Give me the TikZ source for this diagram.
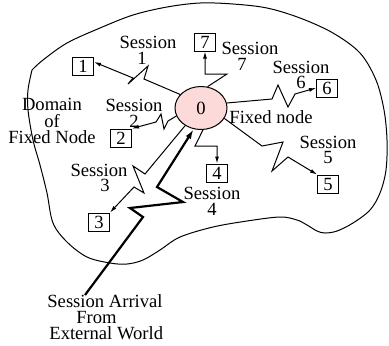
\documentclass[tikz,border=0pt]{standalone}
\usepackage{fontspec}
\setmainfont{Liberation Serif}
\usetikzlibrary{shapes.geometric,arrows.meta}
\definecolor{nodepink}{RGB}{252,218,218}
\begin{document}
\begin{tikzpicture}[x=0.5pt,y=-0.5pt,
  every node/.style={font=\fontsize{9.3}{7.9}\selectfont, inner sep=0pt},
  lbl/.style={align=center},
  box/.style={draw, line width=0.5pt, minimum width=10.5pt, minimum height=9pt},
  link/.style={line width=0.5pt, -{Latex[length=3.5pt,width=2pt]}},
  arrival/.style={line width=1.1pt, -{Latex[length=5pt,width=3pt]}},
  blobline/.style={line width=0.5pt}]
\useasboundingbox (0,0) rectangle (389,345);

% boundary of the fixed node's domain
\draw[blobline] plot[smooth, tension=0.55] coordinates {
  (32,70) (43,60) (67,43) (100,28) (133,15) (167,7) (200,3) (233,4)
  (267,8) (300,18) (333,33) (360,53) (376,80) (384,110) (387,140)
  (386,170) (380,193) (370,210) (353,223) (337,231) (325,233) (317,231)
  (307,225) (297,220) (280,217) (247,221) (213,227) (180,237) (160,250)
  (143,260) (127,264) (110,263) (87,257) (67,242) (53,223) (47,193)
  (40,165) (33,140) (28,110) (28,90) (32,70)};

% fixed node
\node[ellipse, draw, line width=0.5pt, fill=nodepink,
      minimum width=26pt, minimum height=21.5pt] (n0) at (201,108) {0};
\node (fixed) at (271,117) {Fixed node};

% destination nodes
\node[box] (b1) at (83,66) {1};
\node[box] (b7) at (205,42) {7};
\node[box] (b6) at (327,88) {6};
\node[box] (b2) at (121,138) {2};
\node[box] (b4) at (217,173) {4};
\node[box] (b5) at (328,184) {5};
\node[box] (b3) at (99,222) {3};

% session labels
\node[lbl] (s1) at (148,50) {Session\\1\hspace*{6pt}};
\node[lbl] (s7) at (250,56) {Session\\7\hspace*{8pt}};
\node[lbl] (s6) at (301,75) {Session\\6};
\node[lbl] (s2) at (134,113) {Session\\2};
\node[lbl] (s3) at (99,178) {Session\\\hspace*{6pt}3};
\node[lbl] (s4) at (212,201) {Session\\4};
\node[lbl] (s5) at (328,150) {Session\\5};
\node[lbl, font=\fontsize{9.3}{8.2}\selectfont] (dom) at (52,121) {Domain\\of\\Fixed Node};
\node[align=left, anchor=west, font=\fontsize{9.3}{8}\selectfont] (arr) at (47,317)
  {Session Arrival\\\hspace*{14.5pt}From\\\hspace*{1pt}External World};

% sessions leaving the fixed node
\draw[link] (n0.147) -- (144,79) -- (148,66) -- (128,84) -- (133,78) -- (b1.20);
\draw[link] (n0.198) -- (168,121) -- (164,129) -- (161,114) -- (156,122) -- (b2.north east);
\draw[link] (n0.73) -- (227,74) -- (205,74) -- (b7.south);
\draw[link] (n0.11) -- (272,99) -- (278,85) -- (288,107) -- (295,94) -- (b6.west);
\draw[link] (n0.-24) -- (262,146) -- (283,142) -- (272,171) -- (288,157) -- (b5.north west);
\draw[link] (n0.-85) -- (195,146) -- (217,146) -- (b4.north);
\draw[link] (n0.228) -- (145,174) -- (133,166) -- (144,193) -- (134,187) -- (b3.north east);

% arrival from the external world
\coordinate (src) at (85,295);
\draw[arrival] (src) -- (143,217) -- (130,208) -- (183,202) -- (157,187) -- (n0.251);
\end{tikzpicture}
\end{document}
